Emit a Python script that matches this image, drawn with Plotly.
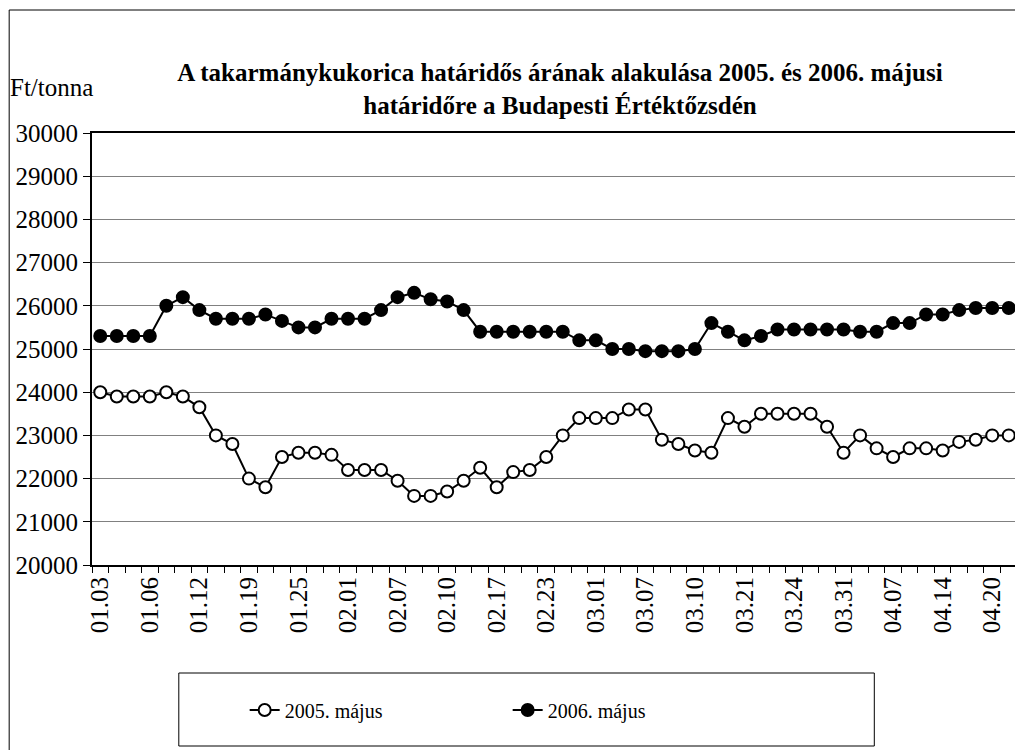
import plotly.graph_objects as go

# tick labels shown under every third trading day
tick_labels = ["01.03", "01.06", "01.12", "01.19", "01.25", "02.01", "02.07",
               "02.10", "02.17", "02.23", "03.01", "03.07", "03.10", "03.21",
               "03.24", "03.31", "04.07", "04.14", "04.20"]

may_2005 = [24000, 23900, 23900, 23900, 24000, 23900, 23650, 23000, 22800, 22000,
            21800, 22500, 22600, 22600, 22550, 22200, 22200, 22200, 21950, 21600,
            21600, 21700, 21950, 22250, 21800, 22150, 22200, 22500, 23000, 23400,
            23400, 23400, 23600, 23600, 22900, 22800, 22650, 22600, 23400, 23200,
            23500, 23500, 23500, 23500, 23200, 22600, 23000, 22700, 22500, 22700,
            22700, 22650, 22850, 22900, 23000, 23000]

may_2006 = [25300, 25300, 25300, 25300, 26000, 26200, 25900, 25700, 25700, 25700,
            25800, 25650, 25500, 25500, 25700, 25700, 25700, 25900, 26200, 26300,
            26150, 26100, 25900, 25400, 25400, 25400, 25400, 25400, 25400, 25200,
            25200, 25000, 25000, 24950, 24950, 24950, 25000, 25600, 25400, 25200,
            25300, 25450, 25450, 25450, 25450, 25450, 25400, 25400, 25600, 25600,
            25800, 25800, 25900, 25950, 25950, 25950]

LABEL_STEP = 3
FONT = "Liberation Serif, Times New Roman, serif"

# page body has an 8px margin, so the figure is sized/offset to compensate
OFF = 8
W, H = 1023 - OFF, 750 - OFF
PL, PR, PT, PB = 92, 1019, 133, 565   # plot area in page pixels
PW, PH = PR - PL, PB - PT


def px(x):
    return (x - PL) / PW


def py(y):
    return (PB - y) / PH


day_index = list(range(len(may_2005)))
tick_pos = day_index[::LABEL_STEP][:len(tick_labels)]

fig = go.Figure()
fig.add_trace(go.Scatter(
    x=day_index, y=may_2005, name="2005. május", mode="lines+markers",
    line=dict(color="black", width=2),
    marker=dict(symbol="circle", size=12, color="white",
                line=dict(color="black", width=2)),
))
fig.add_trace(go.Scatter(
    x=day_index, y=may_2006, name="2006. május", mode="lines+markers",
    line=dict(color="black", width=2),
    marker=dict(symbol="circle", size=12, color="black",
                line=dict(color="black", width=2)),
))

fig.update_layout(
    width=W, height=H,
    margin=dict(l=PL - OFF, r=1023 - PR, t=PT - OFF, b=750 - PB),
    paper_bgcolor="white", plot_bgcolor="white",
    font=dict(family=FONT, size=25, color="black"),
    title=dict(
        text="<b>A takarmánykukorica határidős árának alakulása 2005. és 2006. májusi"
             "<br>határidőre a Budapesti Értéktőzsdén</b>",
        x=(560 - OFF) / W, xanchor="center", y=1 - (81 - OFF) / H, yanchor="middle",
        font=dict(family=FONT, size=25, color="black"),
    ),
    showlegend=True,
    legend=dict(
        orientation="h", x=px(245), xanchor="left", y=py(710), yanchor="middle",
        entrywidth=218, font=dict(family=FONT, size=20),
        bgcolor="rgba(0,0,0,0)",
    ),
)

fig.update_xaxes(
    range=[-0.5, len(day_index) - 0.5],
    tickmode="array", tickvals=tick_pos, ticktext=tick_labels,
    tickangle=-90, ticks="", showgrid=False, zeroline=False,
    showline=True, linecolor="black", linewidth=2, mirror=True,
    minor=dict(tickmode="linear", tick0=-0.5, dtick=1, ticks="outside",
               ticklen=6, tickcolor="black", tickwidth=1, showgrid=False),
    tickfont=dict(size=25),
)
fig.update_yaxes(
    range=[20000, 30000], dtick=1000, tickformat="d",
    ticks="outside", ticklen=7, tickcolor="black",
    showgrid=True, gridcolor="#808080", gridwidth=1, zeroline=False,
    showline=True, linecolor="black", linewidth=2, mirror=True,
    tickfont=dict(size=25),
)

# unit label top-left
fig.add_annotation(
    text="Ft/tonna", xref="paper", yref="paper",
    x=px(8), xanchor="left", y=py(87), yanchor="middle",
    showarrow=False, font=dict(family=FONT, size=25),
)

# legend box and outer chart border (kept inside the figure's own area)
fig.add_shape(type="rect", xref="paper", yref="paper",
              x0=px(179), x1=px(876), y0=py(746), y1=py(673),
              line=dict(color="black", width=1))
fig.add_shape(type="rect", xref="paper", yref="paper",
              x0=px(OFF + 1), x1=px(1021), y0=py(760), y1=py(10),
              line=dict(color="black", width=1))

fig.write_html("out.html")
